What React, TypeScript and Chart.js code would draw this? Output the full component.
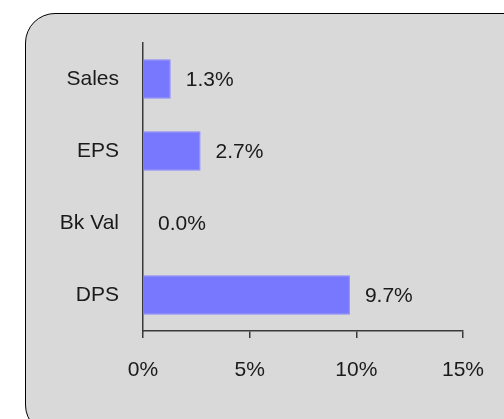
import React, { useRef, useEffect } from "react";
import { Chart, registerables } from "chart.js";

Chart.register(...registerables);

const categories = ["Sales", "EPS", "Bk Val", "DPS"];
const growth = [1.3, 2.7, 0.0, 9.7];
const xTicks = [0, 5, 10, 15];

const FONT = "'Liberation Sans Narrow', 'Arial Narrow', 'Liberation Sans', Arial, sans-serif";
const FONT_SIZE = 21;
const TEXT = "#1a1a1a";
const AXIS = "#3a3a3a";

const valueLabels = {
  id: "valueLabels",
  afterDatasetsDraw(chart: any) {
    const { ctx, scales } = chart;
    const ds = chart.data.datasets[0];
    ctx.save();
    ctx.font = `${FONT_SIZE}px ${FONT}`;
    ctx.fillStyle = TEXT;
    ctx.textAlign = "left";
    ctx.textBaseline = "middle";
    ds.data.forEach((v: number, i: number) => {
      const x = scales.x.getPixelForValue(v) + 15;
      const y = scales.y.getPixelForValue(i);
      ctx.fillText(v.toFixed(1) + "%", x, y + 1);
    });
    ctx.restore();
  },
};

const GrowthChart: React.FC = () => {
  const chartRef = useRef<HTMLCanvasElement | null>(null);

  useEffect(() => {
    if (!chartRef.current) return;
    const ctx = chartRef.current.getContext("2d");
    if (!ctx) return;

    const chartInstance = new Chart(ctx, {
      type: "bar",
      data: {
        labels: categories,
        datasets: [
          {
            data: growth,
            backgroundColor: "rgb(120, 120, 255)",
            borderColor: "rgb(136, 136, 255)",
            borderWidth: 1,
            categoryPercentage: 0.55,
            barPercentage: 1,
          },
        ],
      },
      options: {
        indexAxis: "y",
        responsive: false,
        animation: false,
        layout: { padding: { top: 43, right: 41, left: 0, bottom: 0 } },
        plugins: {
          legend: { display: false },
          tooltip: { enabled: false },
        },
        scales: {
          x: {
            min: xTicks[0],
            max: xTicks[xTicks.length - 1],
            afterFit: (scale: any) => {
              scale.height = 88;
            },
            afterBuildTicks: (scale: any) => {
              scale.ticks = xTicks.map((v) => ({ value: v }));
            },
            ticks: {
              callback: (v: any) => v + "%",
              color: TEXT,
              font: { family: FONT, size: FONT_SIZE },
              padding: 20,
              maxRotation: 0,
            },
            grid: {
              drawOnChartArea: false,
              drawTicks: true,
              tickLength: 7,
              color: AXIS,
              lineWidth: 1.5,
            },
            border: { display: true, color: AXIS, width: 1.5 },
          },
          y: {
            afterFit: (scale: any) => {
              scale.width = 143;
            },
            ticks: {
              color: TEXT,
              font: { family: FONT, size: FONT_SIZE },
              padding: 24,
            },
            grid: { display: false, drawTicks: false },
            border: { display: true, color: AXIS, width: 1.5 },
          },
        },
      },
      plugins: [valueLabels],
    });

    return () => {
      chartInstance.destroy();
    };
  }, []);

  return (
    <div
      style={{
        position: "fixed",
        left: 0,
        top: 0,
        width: 504,
        height: 419,
        overflow: "hidden",
        background: "#ffffff",
      }}
    >
      <div
        style={{
          position: "absolute",
          left: 25,
          top: 13,
          width: 510,
          height: 420,
          border: "1.5px solid #000",
          borderRadius: 30,
          background: "#d9d9d9",
        }}
      />
      <canvas
        ref={chartRef}
        width={504}
        height={419}
        style={{ position: "absolute", left: 0, top: 0 }}
      />
    </div>
  );
};

export default function App() {
  return <GrowthChart />;
}
